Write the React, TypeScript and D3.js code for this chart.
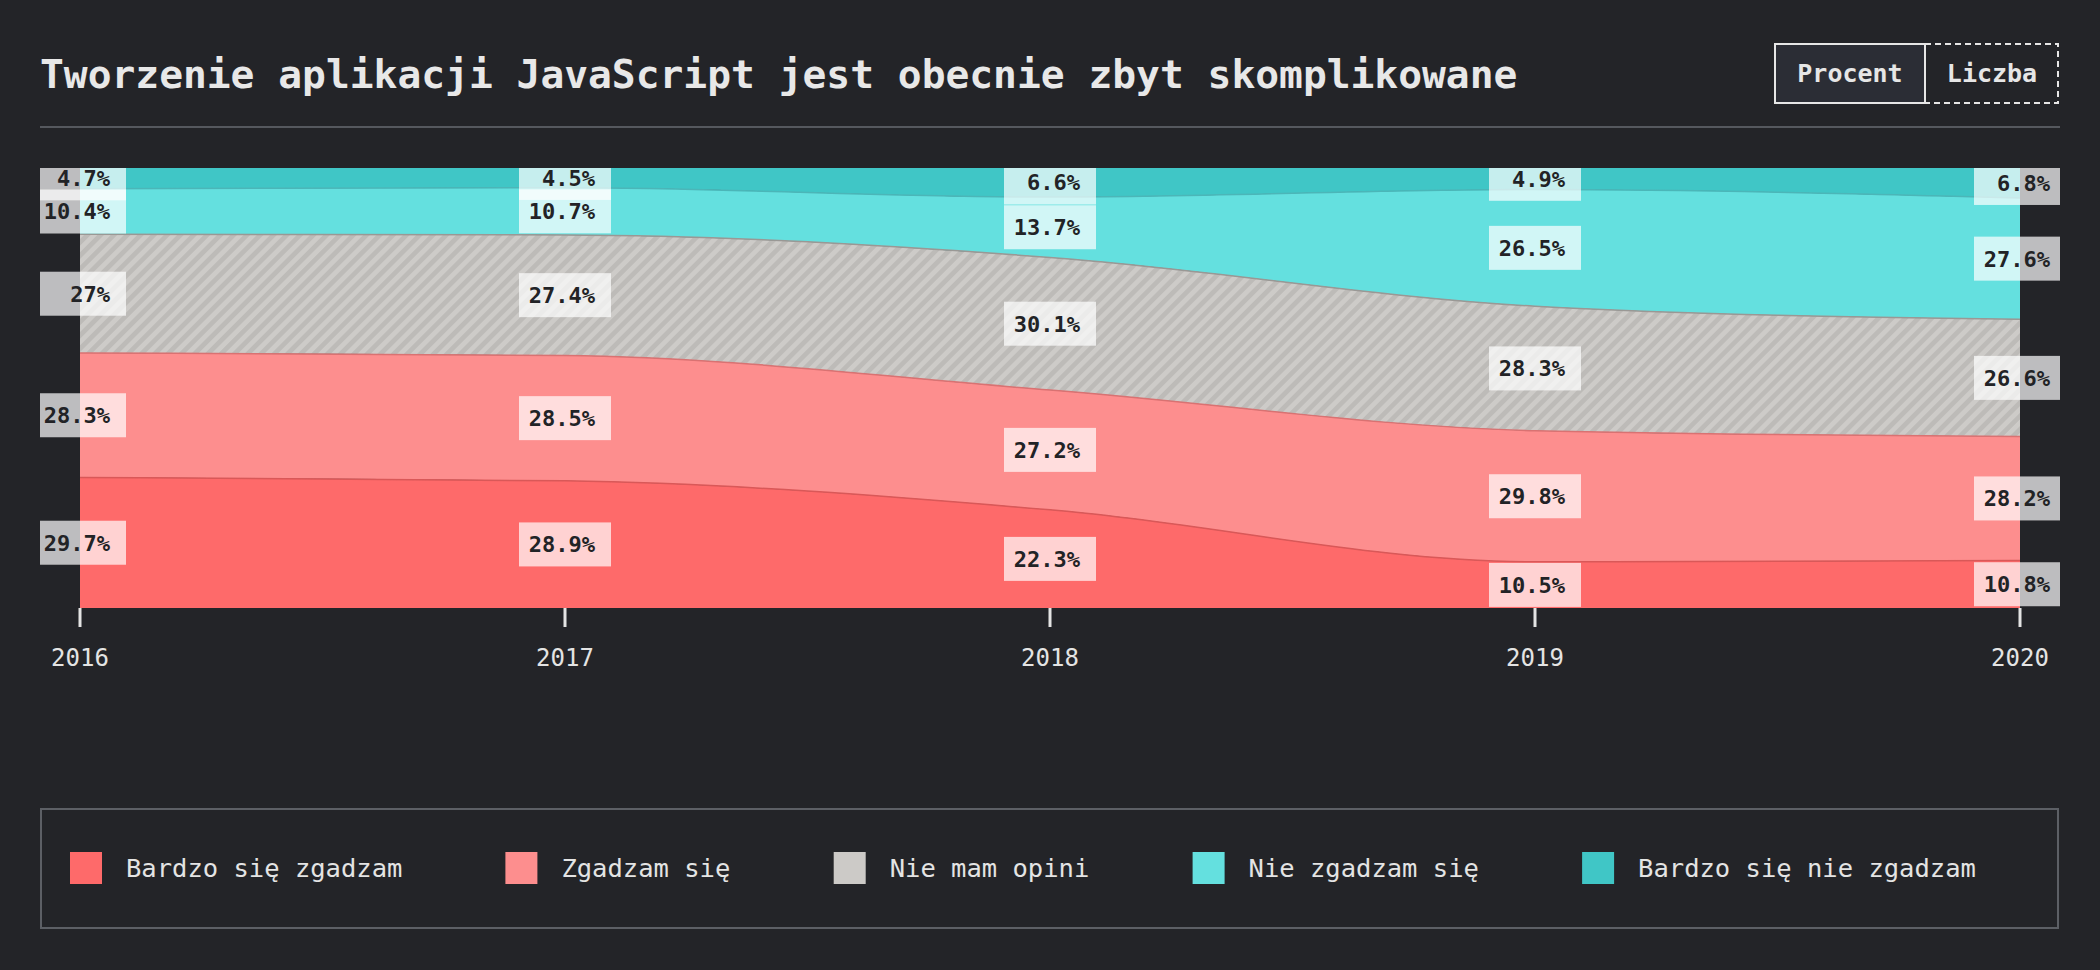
import { useEffect, useRef } from 'react'
import * as d3 from 'd3'

const YEARS = [2016, 2017, 2018, 2019, 2020]
const KEYS = ['strongAgree', 'agree', 'neutral', 'disagree', 'strongDisagree'] as const
type Key = typeof KEYS[number]

const LABELS: Record<Key, string> = {
  strongAgree: 'Bardzo się zgadzam',
  agree: 'Zgadzam się',
  neutral: 'Nie mam opini',
  disagree: 'Nie zgadzam się',
  strongDisagree: 'Bardzo się nie zgadzam',
}

const STRONG_AGREE = [29.7, 28.9, 22.3, 10.5, 10.8]
const AGREE = [28.3, 28.5, 27.2, 29.8, 28.2]
const NEUTRAL = [27, 27.4, 30.1, 28.3, 26.6]
const DISAGREE = [10.4, 10.7, 13.7, 26.5, 27.6]
const STRONG_DISAGREE = [4.7, 4.5, 6.6, 4.9, 6.8]

const FILLS: Record<Key, string> = {
  strongAgree: '#fe6a6a',
  agree: '#fd8e8e',
  neutral: '#cccac7',
  disagree: '#64e0df',
  strongDisagree: '#40c6c6',
}

const LINES: Record<Key, string> = {
  strongAgree: '#d95858',
  agree: '#d97272',
  neutral: '#9a9895',
  disagree: '#4bb6b8',
  strongDisagree: '#3a9ea3',
}

const WIDTH = 2100
const HEIGHT = 970
const BG = '#232428'
const MONO = '"DejaVu Sans Mono", "Liberation Mono", monospace'
const PLOT = { left: 80, right: 2020, top: 168, bottom: 608 }

type Row = { year: number } & Record<Key, number>

const rows: Row[] = YEARS.map((year, i) => ({
  year,
  strongAgree: STRONG_AGREE[i],
  agree: AGREE[i],
  neutral: NEUTRAL[i],
  disagree: DISAGREE[i],
  strongDisagree: STRONG_DISAGREE[i],
}))

document.body.style.margin = '0'
document.body.style.background = BG

export default function App() {
  const svgRef = useRef<SVGSVGElement>(null)

  useEffect(() => {
    if (!svgRef.current) return
    const svg = d3.select(svgRef.current)
    svg.selectAll('*').remove()

    const defs = svg.append('defs')
    const pat = defs.append('pattern')
      .attr('id', 'hatch')
      .attr('patternUnits', 'userSpaceOnUse')
      .attr('width', 9.4)
      .attr('height', 9.4)
      .attr('patternTransform', 'rotate(45)')
    pat.append('rect').attr('width', 9.4).attr('height', 9.4).attr('fill', '#cdcbc8')
    pat.append('rect').attr('width', 4.7).attr('height', 9.4).attr('fill', '#bdbbb8')

    defs.append('clipPath').attr('id', 'labelClip')
      .append('rect')
      .attr('x', 40).attr('y', PLOT.top)
      .attr('width', 2020).attr('height', 460)

    svg.append('rect').attr('width', WIDTH).attr('height', HEIGHT).attr('fill', BG)

    // header
    svg.append('text')
      .attr('x', 40).attr('y', 88)
      .attr('font-family', MONO).attr('font-weight', 'bold').attr('font-size', 39.6)
      .attr('fill', '#e8e8e8')
      .text('Tworzenie aplikacji JavaScript jest obecnie zbyt skomplikowane')
    svg.append('rect').attr('x', 40).attr('y', 126).attr('width', 2020).attr('height', 2).attr('fill', '#55585e')

    svg.append('rect')
      .attr('x', 1775).attr('y', 44).attr('width', 150).attr('height', 59)
      .attr('fill', '#2b2d35').attr('stroke', '#e6e6e6').attr('stroke-width', 2)
    svg.append('rect')
      .attr('x', 1925).attr('y', 44).attr('width', 133).attr('height', 59)
      .attr('fill', 'none').attr('stroke', '#e6e6e6').attr('stroke-width', 2)
      .attr('stroke-dasharray', '6 4')
    svg.append('rect').attr('x', 1924).attr('y', 44).attr('width', 2).attr('height', 59).attr('fill', '#e6e6e6')
    ;[['Procent', 1850], ['Liczba', 1992]].forEach(([t, x]) => {
      svg.append('text')
        .attr('x', x).attr('y', 82)
        .attr('text-anchor', 'middle')
        .attr('font-family', MONO).attr('font-weight', 'bold').attr('font-size', 25)
        .attr('fill', '#e6e6e6')
        .text(t as string)
    })

    // chart
    const x = d3.scalePoint<number>().domain(YEARS).range([PLOT.left, PLOT.right])
    const y = d3.scaleLinear().domain([0, 1]).range([PLOT.bottom, PLOT.top])

    const series = d3.stack<Row, Key>()
      .keys([...KEYS])
      .offset(d3.stackOffsetExpand)(rows)

    const area = d3.area<d3.SeriesPoint<Row>>()
      .x(d => x(d.data.year) ?? 0)
      .y0(d => y(d[0]))
      .y1(d => y(d[1]))
      .curve(d3.curveMonotoneX)

    const topLine = d3.line<d3.SeriesPoint<Row>>()
      .x(d => x(d.data.year) ?? 0)
      .y(d => y(d[1]))
      .curve(d3.curveMonotoneX)

    const g = svg.append('g')
    series.forEach(s => {
      const key = s.key as Key
      g.append('path')
        .attr('d', area(s) ?? '')
        .attr('fill', key === 'neutral' ? 'url(#hatch)' : FILLS[key])
    })
    series.forEach(s => {
      const key = s.key as Key
      if (key === 'strongDisagree') return
      g.append('path')
        .attr('d', topLine(s) ?? '')
        .attr('fill', 'none')
        .attr('stroke', LINES[key])
        .attr('stroke-width', 1.5)
    })

    // value labels
    const labels = svg.append('g').attr('clip-path', 'url(#labelClip)')
    const BOX_W = 92
    const BOX_H = 44
    series.forEach(s => {
      const key = s.key as Key
      s.forEach(d => {
        const cx = x(d.data.year) ?? 0
        const cy = (y(d[0]) + y(d[1])) / 2
        labels.append('rect')
          .attr('x', cx - BOX_W / 2).attr('y', cy - BOX_H / 2)
          .attr('width', BOX_W).attr('height', BOX_H)
          .attr('fill', 'rgba(255,255,255,0.7)')
        labels.append('text')
          .attr('x', cx + 30).attr('y', cy)
          .attr('dy', '0.36em')
          .attr('text-anchor', 'end')
          .attr('font-family', MONO).attr('font-weight', 'bold').attr('font-size', 22)
          .attr('fill', '#222326')
          .text(`${d.data[key]}%`)
      })
    })

    // x axis
    const axis = svg.append('g')
    YEARS.forEach(yr => {
      const xv = x(yr) ?? 0
      axis.append('rect')
        .attr('x', xv - 1.5).attr('y', PLOT.bottom)
        .attr('width', 3).attr('height', 19)
        .attr('fill', '#e4e4e4')
      axis.append('text')
        .attr('x', xv).attr('y', 666)
        .attr('text-anchor', 'middle')
        .attr('font-family', MONO).attr('font-size', 24)
        .attr('fill', '#e4e4e4')
        .text(String(yr))
    })

    // legend
    svg.append('rect')
      .attr('x', 41).attr('y', 809).attr('width', 2017).attr('height', 119)
      .attr('fill', 'none').attr('stroke', '#5c5f65').attr('stroke-width', 2)
    const CHAR_W = 15.3
    let lx = 70
    KEYS.forEach(key => {
      svg.append('rect')
        .attr('x', lx).attr('y', 852).attr('width', 32).attr('height', 32)
        .attr('fill', FILLS[key])
      svg.append('text')
        .attr('x', lx + 56).attr('y', 877)
        .attr('font-family', MONO).attr('font-size', 25.5)
        .attr('fill', '#e4e4e4')
        .text(LABELS[key])
      lx += 56 + LABELS[key].length * CHAR_W + 104
    })
  }, [])

  return <svg ref={svgRef} width={WIDTH} height={HEIGHT} style={{ display: 'block' }} />
}
